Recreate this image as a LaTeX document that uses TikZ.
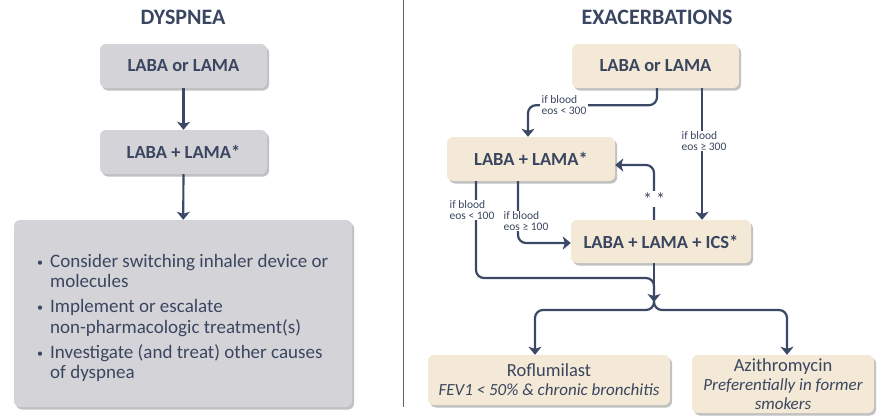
\documentclass[tikz,border=0pt]{standalone}
\usepackage{fontspec}
\setmainfont{Carlito}
\usetikzlibrary{shadows,arrows.meta}
\definecolor{txt}{HTML}{3A4660}
\definecolor{ln}{HTML}{3B4966}
\definecolor{gboxc}{HTML}{D4D3D8}
\definecolor{bboxc}{HTML}{F3E9D6}
\definecolor{divc}{HTML}{5A6070}
\tikzset{
 box/.style={rounded corners=6pt, draw=none, drop shadow={shadow xshift=2pt, shadow yshift=-2.5pt, fill=black!70, opacity=0.35}, text=txt, font=\bfseries\fontsize{18.5}{20}\selectfont, inner sep=0pt, align=center},
 gb/.style={box, fill=gboxc},
 bb/.style={box, fill=bboxc},
 plain/.style={font=\fontsize{18.5}{19}\selectfont},
 wire/.style={draw=ln, line width=2.2pt, rounded corners=8pt},
 conn/.style={wire, -{Stealth[width=13pt,length=8pt,inset=2pt]}},
 lab/.style={fill=white, text=txt, font=\fontsize{11.5}{10.5}\selectfont, align=left, inner sep=1.2pt},
 ttl/.style={text=txt, font=\bfseries\fontsize{22}{24}\selectfont},
}
\newcommand{\bul}{\makebox[13pt][l]{\raisebox{1pt}{\fontsize{12}{12}\selectfont\textbullet}}}
\newcommand{\itl}[1]{{\fontsize{17}{19}\selectfont\itshape #1}}
\begin{document}
\begin{tikzpicture}[x=1pt,y=-1pt]
\useasboundingbox (0,0) rectangle (878,415);
% divider
\coordinate (d1) at (403,0);
\coordinate (d2) at (403,407);
\draw[divc, line width=1pt] (d1) -- (d2);
% titles
\node[ttl] (t1) at (183,17) {DYSPNEA};
\node[ttl] (t2) at (657,17) {EXACERBATIONS};
% left column
\node[gb, minimum width=167pt, minimum height=44pt] (l1) at (183.5,66) {LABA or LAMA};
\node[gb, minimum width=167pt, minimum height=44pt] (l2) at (183.5,152) {LABA + LAMA*};
\node[gb, minimum width=338pt, minimum height=187pt] (l3) at (183,313.5) {};
\node[anchor=west, text=txt, align=left, font=\fontsize{19}{20.5}\selectfont, inner sep=0pt] (l3t) at (37,318)
 {\bul Consider switching inhaler device or\\
  \hspace*{13pt}molecules\\[4.5pt]
  \bul Implement or escalate\\
  \hspace*{13pt}non-pharmacologic treatment(s)\\[4.5pt]
  \bul Investigate (and treat) other causes\\
  \hspace*{13pt}of dyspnea};
\draw[conn] (l1) -- (l2);
\draw[conn] (l2) -- (l3);
% right column
\node[bb, minimum width=167pt, minimum height=44pt] (A) at (655.5,66) {LABA or LAMA};
\node[bb, minimum width=168pt, minimum height=44pt] (B) at (531,159) {LABA + LAMA*};
\node[bb, minimum width=180pt, minimum height=43pt] (C) at (661,241.5) {LABA + LAMA + ICS*};
\node[bb, plain, minimum width=242pt, minimum height=50pt] (D) at (549,380) {Roflumilast\\\itl{FEV1 < 50\% \& chronic bronchitis}};
\node[bb, plain, minimum width=182pt, minimum height=58pt] (E) at (783,384) {Azithromycin\\\itl{Preferentially in former}\\\itl{smokers}};
\coordinate (h) at (654,278);
\coordinate (m) at (654,302);
\coordinate (s) at (654,310);
% connectors
\draw[conn] ([xshift=1.5pt]A.south) -- ++(0,17) -| ([xshift=-3pt]B.north);
\node[lab] (q1) at (564,105) {if blood\\eos < 300};
\draw[conn] ([xshift=46.5pt]A.south) -- ([xshift=46.5pt]A.south |- C.north);
\node[lab] (q2) at (704,141) {if blood\\eos ≥ 300};
\draw[conn] ([xshift=-7pt]C.north) |- ([yshift=-6pt]B.east);
\node[fill=white, text=txt, font=\fontsize{18}{18}\selectfont, inner sep=1.5pt] (q3) at (654,199) {* *};
\draw[wire] ([xshift=-55pt]B.south) |- (h) -- (m);
\node[lab] (q4) at (472,210) {if blood\\eos < 100};
\draw[conn] ([xshift=-13pt]B.south) |- ([yshift=-1.5pt]C.west);
\node[lab] (q5) at (526,221) {if blood\\eos ≥ 100};
\draw[conn] ([xshift=-7pt]C.south) -- (m);
\draw[conn] (m) -- (s) -| ([xshift=-14pt]D.north);
\draw[conn] (m) -- (s) -| ([xshift=4pt]E.north);
\end{tikzpicture}
\end{document}
